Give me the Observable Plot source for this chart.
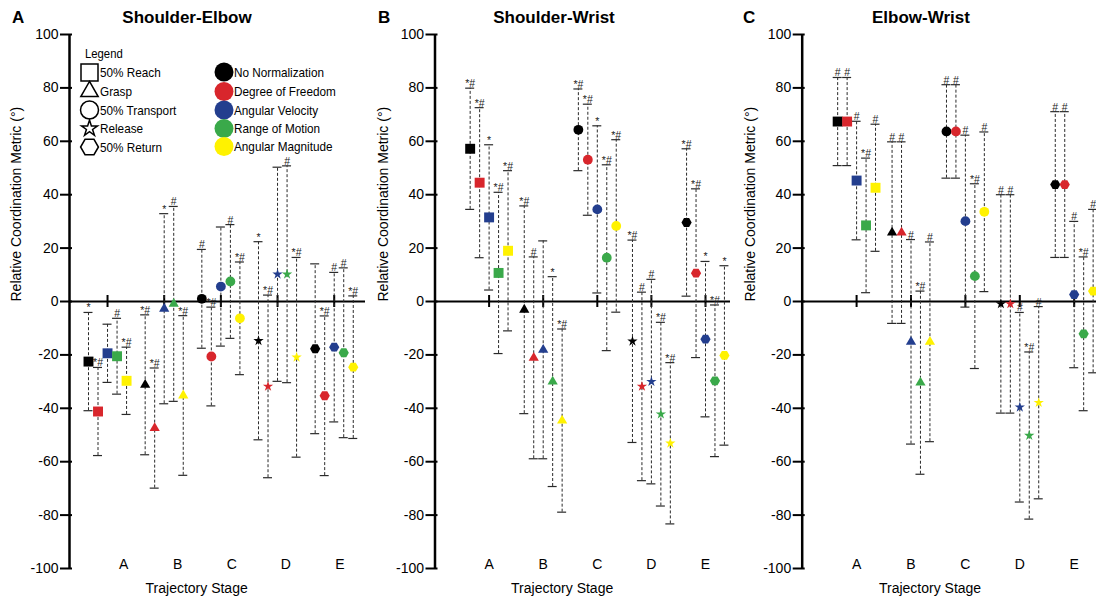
<!DOCTYPE html>
<html>
<head>
<meta charset="utf-8">
<script src="https://cdn.jsdelivr.net/npm/d3@7"></script>
<script src="https://cdn.jsdelivr.net/npm/@observablehq/plot@0.6"></script>
<style>
  html, body { margin: 0; padding: 0; background: #fff; }
  #chart { position: relative; width: 1096px; height: 605px; overflow: hidden;
           font-family: "Liberation Sans", Arial, sans-serif; }
  .panel { position: absolute; top: 0; height: 605px; }
  .panel svg { position: absolute; left: 0; top: 0; }
  .letter { position: absolute; top: 8px; font: bold 17px/20px "Liberation Sans", Arial, sans-serif; }
  .title { position: absolute; top: 8px; width: 240px; text-align: center;
           font: bold 17px/20px "Liberation Sans", Arial, sans-serif; }
</style>
</head>
<body>
<div id="chart"></div>
<script>
// Trajectory stages and their marker names
const stages = ["A", "B", "C", "D", "E"];
const stageNames = ["50% Reach", "Grasp", "50% Transport", "Release", "50% Return"];

// Normalization methods and their colours
const normalizations = ["No Normalization", "Degree of Freedom", "Angular Velocity", "Range of Motion", "Angular Magnitude"];
const normColors = ["#000000", "#d8262c", "#233e8e", "#3aa94a", "#fff200"];

const panelLetters = ["A", "B", "C"];
const panelTitles = ["Shoulder-Elbow", "Shoulder-Wrist", "Elbow-Wrist"];
const yTicks = [-100, -80, -60, -40, -20, 0, 20, 40, 60, 80, 100];

// Rows: normalization method; columns: trajectory stage A..E
const shoulderElbowMean = [
  [-22.5, -31.2,   1.0, -14.7, -17.7],
  [-41.2, -47.4, -20.6, -31.8, -35.3],
  [-19.4,  -2.7,   5.6,  10.2, -17.1],
  [-20.5,  -0.9,   7.5,  10.2, -19.2],
  [-29.7, -35.2,  -6.3, -20.9, -24.6]
];
const shoulderElbowSD = [
  [18.4, 26.2, 18.5, 37.1, 31.8],
  [16.5, 22.5, 18.5, 34.2, 29.9],
  [10.9, 35.6, 22.3, 40.1, 28.0],
  [14.2, 36.5, 21.3, 40.6, 31.8],
  [12.6, 29.9, 21.1, 37.4, 26.7]
];
const shoulderElbowSig = [
  ["*",  "*#", "#",  "*",  ""],
  ["*#", "*#", "*#", "*#", "*#"],
  ["",   "*",  "",   "",   "#"],
  ["#",  "#",  "#",  "#",  "#"],
  ["*#", "*#", "*#", "*#", "*#"]
];

const shoulderWristMean = [
  [57.2,  -3.1, 64.3, -14.9,  29.6],
  [44.5, -21.1, 53.1, -31.8,  10.6],
  [31.5, -18.1, 34.5, -30.0, -14.1],
  [10.7, -30.0, 16.4, -42.2, -29.7],
  [19.0, -44.6, 28.3, -53.1, -20.2]
];
const shoulderWristSD = [
  [22.7, 38.9, 15.3, 37.9, 27.6],
  [28.1, 37.8, 20.8, 35.3, 31.6],
  [27.2, 40.8, 31.3, 38.3, 29.1],
  [30.2, 39.3, 34.8, 34.4, 28.4],
  [30.0, 34.3, 32.3, 30.2, 33.6]
];
const shoulderWristSig = [
  ["*#", "*#", "*#", "*#", "*#"],
  ["*#", "#",  "*#", "#",  "*#"],
  ["*",  "",   "*",  "#",  "*"],
  ["*#", "*",  "*#", "*#", "*#"],
  ["*#", "*#", "*#", "*#", "*"]
];

const elbowWristMean = [
  [67.4,  25.8, 63.7,  -0.9,  43.8],
  [67.4,  25.8, 63.7,  -0.9,  43.8],
  [45.3, -15.1, 30.1, -39.6,   2.6],
  [28.5, -30.4,  9.5, -50.2, -12.1],
  [42.6, -15.1, 33.6, -37.9,   3.9]
];
const elbowWristSD = [
  [16.5, 34.0, 17.5, 40.9, 27.3],
  [16.5, 34.0, 17.5, 40.9, 27.3],
  [22.2, 38.3, 32.2, 35.5, 27.4],
  [25.2, 34.3, 34.6, 31.3, 28.8],
  [23.8, 37.4, 29.9, 36.0, 30.6]
];
const elbowWristSig = [
  ["#",  "#",  "#",  "#",  "#"],
  ["#",  "#",  "#",  "#",  "#"],
  ["#",  "#",  "#",  "#",  "#"],
  ["*#", "*#", "*#", "*#", "*#"],
  ["#",  "#",  "#",  "#",  "#"]
];

// Flat-topped hexagon used for the 50% Return stage
const hexagonFlat = {
  draw(context, size) {
    const r = Math.sqrt(size / Math.PI);
    for (let j = 0; j < 6; ++j) {
      const a = j * Math.PI / 3;
      const px = r * Math.cos(a), py = r * Math.sin(a);
      if (j) context.lineTo(px, py); else context.moveTo(px, py);
    }
    context.closePath();
  }
};
const stageSymbols = ["square", "triangle", "circle", "star", hexagonFlat];
const stageRadius = [5.6, 3.8, 4.9, 3.25, 5.1];

// Panel geometry: x is measured in group widths from the y axis
const panels = [
  {mean: shoulderElbowMean, sd: shoulderElbowSD, sig: shoulderElbowSig,
   left: 0, width: 366, marginLeft: 69, marginRight: 1, unit: 54.1,
   start: 0.703, step: 1.0475, off: 0.176, titleX: 187, ylabelDx: -53},
  {mean: shoulderWristMean, sd: shoulderWristSD, sig: shoulderWristSig,
   left: 366, width: 365, marginLeft: 68.5, marginRight: 1, unit: 54.1,
   start: 1, step: 1, off: 0.175, titleX: 188, ylabelDx: -51},
  {mean: elbowWristMean, sd: elbowWristSD, sig: elbowWristSig,
   left: 731, width: 365, marginLeft: 70.7, marginRight: 0, unit: 54.4,
   start: 1, step: 1, off: 0.174, titleX: 190, ylabelDx: -52}
];

const chart = d3.select("#chart");

panels.forEach((p, pi) => {
  const rows = [];
  stages.forEach((s, i) => {
    normalizations.forEach((n, k) => {
      rows.push({
        stage: i, norm: n,
        x: p.start + p.step * i + p.off * (k - 2),
        mean: p.mean[k][i], sd: p.sd[k][i], sig: p.sig[k][i]
      });
    });
  });
  const centers = stages.map((s, i) => p.start + p.step * i);
  const xMax = (p.width - p.marginLeft - p.marginRight) / p.unit;
  const yMin = d3.min(yTicks), yMax = d3.max(yTicks);
  const barColor = "#2a2a2a";

  const svg = Plot.plot({
    width: p.width,
    height: 605,
    marginLeft: p.marginLeft,
    marginRight: p.marginRight,
    marginTop: 34,
    marginBottom: 37,
    x: {domain: [0, xMax], axis: null},
    y: {domain: [yMin, yMax], axis: null},
    color: {domain: normalizations, range: normColors},
    style: {background: "transparent", fontFamily: "'Liberation Sans', Arial, sans-serif", overflow: "visible"},
    marks: [
      // zero line with a tick at each stage group
      Plot.ruleY([0], {stroke: "#000", strokeWidth: 2}),
      Plot.ruleX(centers, {x: d => d, y1: 0, y2: 0, insetTop: -6, insetBottom: -6, stroke: "#000", strokeWidth: 2}),
      // y axis line, ticks and labels
      Plot.ruleX([0], {y1: yMin, y2: yMax, stroke: "#000", strokeWidth: 2.5}),
      Plot.ruleY(yTicks, {y: d => d, x1: 0, x2: 0, insetLeft: -9, insetRight: -3, stroke: "#000", strokeWidth: 2}),
      Plot.text(yTicks, {y: d => d, text: d => String(d), frameAnchor: "left", dx: -11, textAnchor: "end", fontSize: 14, fill: "#000"}),
      Plot.text(["Relative Coordination Metric (°)"], {frameAnchor: "left", rotate: -90, dx: p.ylabelDx, fontSize: 14, fill: "#000"}),
      // stage labels and x title
      Plot.text(stages, {x: (d, i) => 1 + i, text: d => d, frameAnchor: "bottom", fontSize: 14, fill: "#000"}),
      Plot.text(["Trajectory Stage"], {frameAnchor: "bottom-left", dx: 2.35 * p.unit, dy: 24, textAnchor: "middle", fontSize: 14, fill: "#000"}),
      // dashed standard deviation bars with caps
      Plot.ruleX(rows, {x: "x", y1: d => d.mean - d.sd, y2: d => d.mean + d.sd, stroke: barColor, strokeWidth: 1, strokeDasharray: "3,2"}),
      Plot.ruleY(rows, {y: d => d.mean + d.sd, x1: "x", x2: "x", insetLeft: -4.5, insetRight: -4.5, stroke: barColor, strokeWidth: 1.2}),
      Plot.ruleY(rows, {y: d => d.mean - d.sd, x1: "x", x2: "x", insetLeft: -4.5, insetRight: -4.5, stroke: barColor, strokeWidth: 1.2}),
      // significance markers above the upper cap
      Plot.text(rows.filter(d => d.sig), {x: "x", y: d => d.mean + d.sd, text: "sig", dy: -1, lineAnchor: "bottom", fontSize: 10.5, fill: "#222"}),
      // means
      ...stages.map((s, i) => Plot.dot(rows.filter(d => d.stage === i), {
        x: "x", y: "mean", fill: "norm", symbol: stageSymbols[i], r: stageRadius[i]
      }))
    ]
  });

  const div = chart.append("div").attr("class", "panel")
    .style("left", p.left + "px").style("width", p.width + "px");
  div.node().appendChild(svg);
  div.append("div").attr("class", "letter").style("left", "12px").text(panelLetters[pi]);
  div.append("div").attr("class", "title").style("left", (p.titleX - 120) + "px").text(panelTitles[pi]);
});

// Legend for marker shapes and normalization colours (inside panel A)
const legend = chart.append("svg")
  .attr("width", 340).attr("height", 160)
  .style("position", "absolute").style("left", "0px").style("top", "0px");

function condensedText(g, x, y, str, size) {
  g.append("text")
    .attr("transform", `translate(${x},${y}) scale(0.87,1)`)
    .attr("font-family", "'Liberation Sans', Arial, sans-serif")
    .attr("font-size", size)
    .attr("fill", "#000")
    .text(str);
}

condensedText(legend, 85, 57.5, "Legend", 13);
const legendSymbols = [d3.symbolSquare, d3.symbolTriangle, d3.symbolCircle, d3.symbolStar, hexagonFlat];
const legendSizes = [289, 130, 254, 80, 250];
const shapeRowY = [72.5, 91.5, 110, 128.5, 147];
stageNames.forEach((name, i) => {
  legend.append("path")
    .attr("transform", `translate(89.5,${shapeRowY[i]})`)
    .attr("d", d3.symbol(legendSymbols[i], legendSizes[i])())
    .attr("fill", "none").attr("stroke", "#000").attr("stroke-width", 1.5);
  condensedText(legend, 100, shapeRowY[i] + 4.8, name, 13.5);
});
const colorRowY = [72, 91.5, 110, 128.5, 146.5];
normalizations.forEach((name, k) => {
  legend.append("circle")
    .attr("cx", 224).attr("cy", colorRowY[k]).attr("r", 9.5)
    .attr("fill", normColors[k]);
  condensedText(legend, 234, colorRowY[k] + 4.5, name, 13.5);
});
</script>
</body>
</html>
